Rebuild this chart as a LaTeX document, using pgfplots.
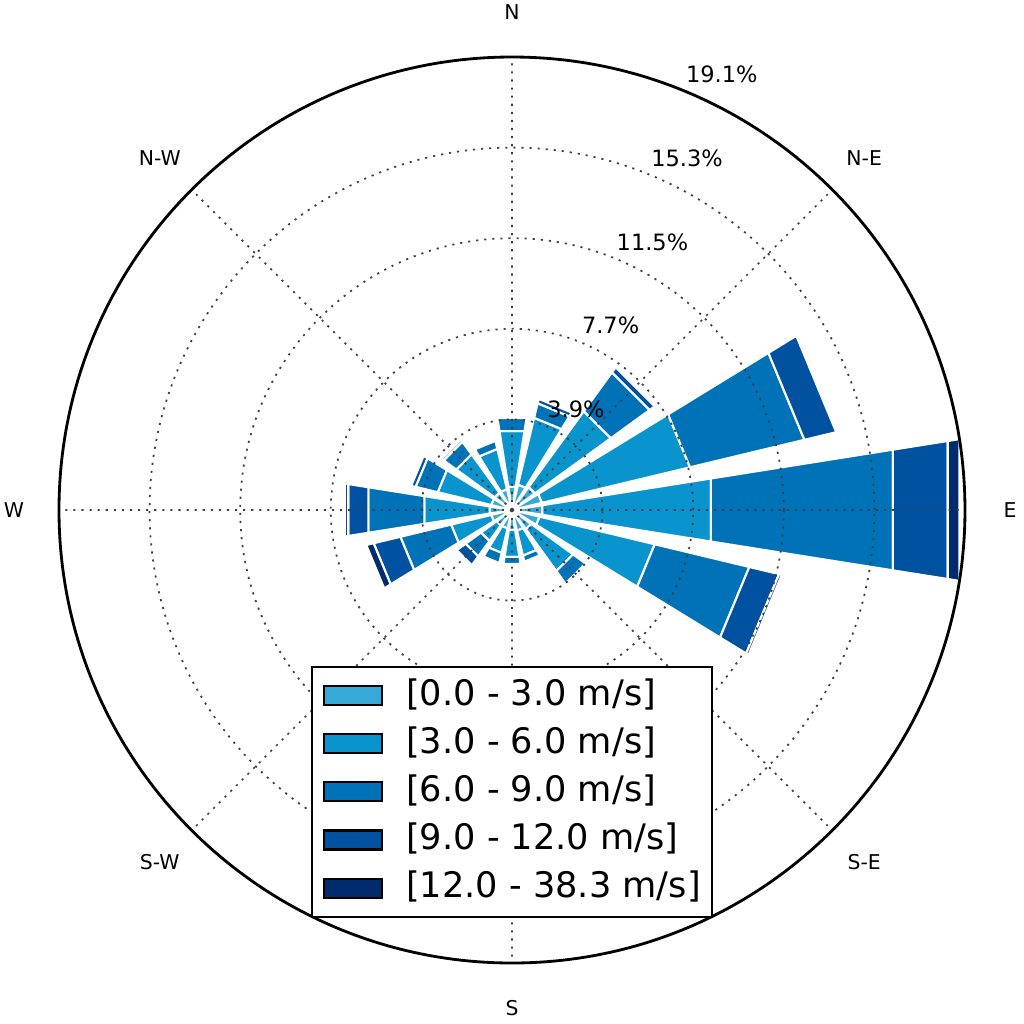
\documentclass[border=0pt]{standalone}
\usepackage{fontspec}
\setmainfont{DejaVu Sans}
\usepackage{pgfplots}
\usepackage{pgfplotstable}
\usepgfplotslibrary{polar}
\pgfplotsset{compat=1.18}

\definecolor{bin0}{RGB}{53,170,216}
\definecolor{bin1}{RGB}{10,148,205}
\definecolor{bin2}{RGB}{0,115,184}
\definecolor{bin3}{RGB}{0,81,160}
\definecolor{bin4}{RGB}{0,43,108}

% frequency (%) per speed bin, per direction (angle: 0 = E, counter-clockwise)
\pgfplotstableread{
dir ang c0 c1 c2 c3 c4
E   0.0   1.30 7.19 7.77 2.34 0.50
ENE 22.5  1.30 6.42 4.96 1.38 0
NE  45.0  1.20 3.95 2.02 0.27 0
NNE 67.5  1.10 2.90 0.63 0.19 0
N   90.0  1.00 2.37 0.56 0    0
NNW 112.5 0.90 1.75 0.35 0    0
NW  135.0 0.90 2.00 0.66 0.11 0
WNW 157.5 0.90 2.32 0.96 0.19 0
W   180.0 0.95 2.79 2.39 0.86 0.14
WSW 202.5 0.90 1.74 2.20 1.16 0.32
SW  225.0 0.80 0.82 0.80 0.46 0
SSW 247.5 0.80 1.06 0.44 0    0
S   270.0 0.85 1.15 0.30 0    0
SSE 292.5 0.90 1.08 0.26 0    0
SE  315.0 1.00 2.18 0.66 0.06 0
ESE 337.5 1.20 4.99 4.10 1.29 0.12
}\windtable

\newcommand\windwedge[2]{%
  \pgfplotstablegetelem{\wrow}{#1}\of\windtable
  \pgfmathsetmacro\rout{\rin+\pgfplotsretval}%
  \ifdim\pgfplotsretval pt>0pt
    \edef\tmp{\noexpand\addplot[forget plot,fill=#2,draw=white,line width=0.6pt]
      coordinates {(\wa,\rin) (\wb,\rin) (\wb,\rout) (\wa,\rout)} -- cycle;}%
    \tmp
  \fi
  \let\rin\rout}
\newcommand\winddir[1]{%
  \def\wrow{#1}%
  \pgfplotstablegetelem{#1}{ang}\of\windtable
  \pgfmathsetmacro\wa{\pgfplotsretval-9}%
  \pgfmathsetmacro\wb{\pgfplotsretval+9}%
  \def\rin{0}%
  \windwedge{c0}{bin0}\windwedge{c1}{bin1}\windwedge{c2}{bin2}%
  \windwedge{c3}{bin3}\windwedge{c4}{bin4}}

\begin{document}
\begin{tikzpicture}
\path[use as bounding box] (-5.12,-5.14) rectangle (5.12,5.10);
\begin{polaraxis}[
  at={(0,0)},anchor=center,
  scale only axis,width=9.06cm,height=9.06cm,
  ymin=0,ymax=19.1,
  xtick={0,45,...,315},xticklabels={},
  ytick={3.82,7.64,11.46,15.28},yticklabels={},
  xmajorgrids,ymajorgrids,
  major grid style={black!75,line width=0.5pt,dash pattern=on 0.6pt off 1.7pt},
  major tick length=0pt,
  separate axis lines,
  x axis line style={black,line width=0.8pt},
  y axis line style={draw=none},
  axis on top,clip=false,
  legend style={at={(0.5,0.05)},anchor=south,draw=black,line width=0.6pt,
    font=\fontsize{10}{12}\selectfont,
    nodes={inner sep=0pt,text height=8pt,text depth=2.5pt,anchor=west},
    row sep=3.2pt,column sep=0.23cm,inner xsep=0.11cm,inner ysep=0.1cm},
  legend image code/.code={\draw[#1,draw=black,line width=0.6pt] (0cm,-0.095cm) rectangle (0.58cm,0.095cm);},
]
  \pgfplotsinvokeforeach{0,...,15}{\winddir{#1}}

  \addlegendimage{fill=bin0}\addlegendentry{{[}0.0 - 3.0 m/s{]}}
  \addlegendimage{fill=bin1}\addlegendentry{{[}3.0 - 6.0 m/s{]}}
  \addlegendimage{fill=bin2}\addlegendentry{{[}6.0 - 9.0 m/s{]}}
  \addlegendimage{fill=bin3}\addlegendentry{{[}9.0 - 12.0 m/s{]}}
  \addlegendimage{fill=bin4}\addlegendentry{{[}12.0 - 38.3 m/s{]}}

  % compass labels
  \begin{scope}[every node/.style={font=\fontsize{5.8}{7}\selectfont,anchor=center}]
    \node at (axis cs:0,21.0) {E};
    \node at (axis cs:45,21.0) {N-E};
    \node at (axis cs:90,21.0) {N};
    \node at (axis cs:135,21.0) {N-W};
    \node at (axis cs:180,21.0) {W};
    \node at (axis cs:225,21.0) {S-W};
    \node at (axis cs:270,21.0) {S};
    \node at (axis cs:315,21.0) {S-E};
  \end{scope}
  % radial labels
  \begin{scope}[every node/.style={font=\fontsize{6.4}{7.5}\selectfont,anchor=south west,inner xsep=0pt,inner ysep=2.2pt}]
    \node at (axis cs:67.5,3.82) {3.9\%};
    \node at (axis cs:67.5,7.64) {7.7\%};
    \node at (axis cs:67.5,11.46) {11.5\%};
    \node at (axis cs:67.5,15.28) {15.3\%};
    \node at (axis cs:67.5,19.1) {19.1\%};
  \end{scope}
\end{polaraxis}
\end{tikzpicture}
\end{document}
